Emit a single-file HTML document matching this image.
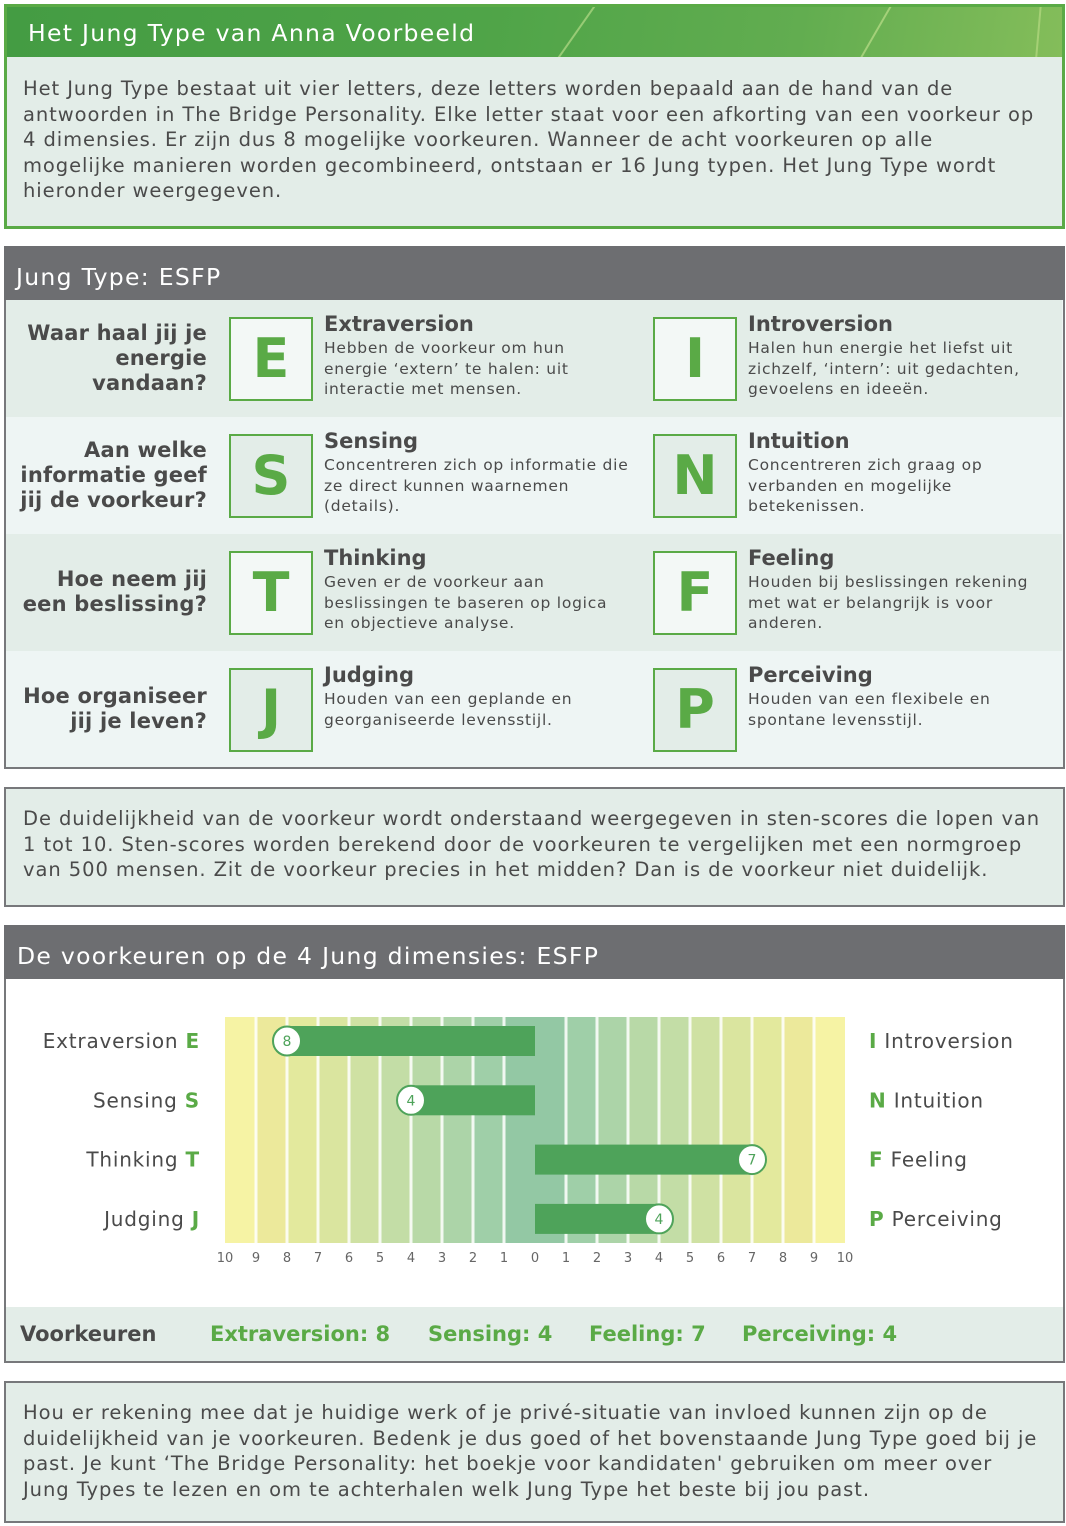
<!DOCTYPE html>
<html><head><meta charset="utf-8">
<style>
*{margin:0;padding:0;box-sizing:border-box}
body{width:1066px;height:1526px;background:#fff;position:relative;font-family:"DejaVu Sans","Liberation Sans",sans-serif;color:#4a4a4a;overflow:hidden}
.abs{position:absolute}
.p{font-size:19.5px;line-height:25.6px;white-space:nowrap;letter-spacing:0.93px}
.hdr{color:#fff;font-size:23.5px;white-space:nowrap;letter-spacing:1.3px}
.row{position:absolute;left:6px;width:1056px;height:117px}
.q{position:absolute;right:855px;text-align:right;font-weight:bold;font-size:21px;line-height:25px;color:#4a4a4a;white-space:nowrap;letter-spacing:0.2px}
.lb{position:absolute;width:84px;height:84px;border:2px solid #5aaa46;color:#5aaa46;font-weight:bold;font-size:54px;text-align:center;line-height:80px}
.tt{position:absolute;font-weight:bold;font-size:21px;color:#4a4a4a;white-space:nowrap}
.ds{position:absolute;font-size:15.5px;line-height:20.5px;color:#4a4a4a;white-space:nowrap;letter-spacing:0.75px}
.g{color:#5aaa46;font-weight:bold}
</style></head><body>

<div class="abs" style="left:4px;top:4px;width:1061px;height:225px;border:3px solid #5aaa46;background:#e3ede8"></div>
<div class="abs" style="left:7px;top:7px;width:1055px;height:50px;background:linear-gradient(100deg,#449c43 0%,#4fa448 45%,#62ad50 75%,#84bd5a 100%);overflow:hidden">
<div class="abs" style="left:565px;top:-10px;width:2px;height:80px;background:rgba(220,240,160,.5);transform:rotate(35deg)"></div>
<div class="abs" style="left:865px;top:-10px;width:2px;height:80px;background:rgba(220,240,160,.5);transform:rotate(30deg)"></div>
<div class="abs" style="left:1030px;top:-10px;width:2px;height:80px;background:rgba(220,240,160,.4);transform:rotate(5deg)"></div>
</div>
<div class="abs hdr" style="left:28px;top:19px">Het Jung Type van Anna Voorbeeld</div>
<div class="abs p" style="left:23px;top:76px">Het Jung Type bestaat uit vier letters, deze letters worden bepaald aan de hand van de<br>antwoorden in The Bridge Personality. Elke letter staat voor een afkorting van een voorkeur op<br>4 dimensies. Er zijn dus 8 mogelijke voorkeuren. Wanneer de acht voorkeuren op alle<br>mogelijke manieren worden gecombineerd, ontstaan er 16 Jung typen. Het Jung Type wordt<br>hieronder weergegeven.</div>

<div class="abs" style="left:4px;top:246px;width:1061px;height:523px;border:2px solid #77787b;background:#eef5f4"></div>
<div class="abs" style="left:4px;top:246px;width:1061px;height:54px;background:#6d6e71"></div>
<div class="abs hdr" style="left:16px;top:263px">Jung Type: ESFP</div>

<div class="row" style="top:300px;background:#e3ede8">
 <div class="q" style="top:21px">Waar haal jij je<br>energie<br>vandaan?</div>
 <div class="lb" style="left:223px;top:17px;background:#f3f8f6">E</div>
 <div class="tt" style="left:318px;top:12px">Extraversion</div>
 <div class="ds" style="left:318px;top:38px">Hebben de voorkeur om hun<br>energie ‘extern’ te halen: uit<br>interactie met mensen.</div>
 <div class="lb" style="left:647px;top:17px;background:#f3f8f6">I</div>
 <div class="tt" style="left:742px;top:12px">Introversion</div>
 <div class="ds" style="left:742px;top:38px">Halen hun energie het liefst uit<br>zichzelf, ‘intern’: uit gedachten,<br>gevoelens en ideeën.</div>
</div>
<div class="row" style="top:417px;background:#eef5f4">
 <div class="q" style="top:21px">Aan welke<br>informatie geef<br>jij de voorkeur?</div>
 <div class="lb" style="left:223px;top:17px;background:#e3ede8">S</div>
 <div class="tt" style="left:318px;top:12px">Sensing</div>
 <div class="ds" style="left:318px;top:38px">Concentreren zich op informatie die<br>ze direct kunnen waarnemen<br>(details).</div>
 <div class="lb" style="left:647px;top:17px;background:#e3ede8">N</div>
 <div class="tt" style="left:742px;top:12px">Intuition</div>
 <div class="ds" style="left:742px;top:38px">Concentreren zich graag op<br>verbanden en mogelijke<br>betekenissen.</div>
</div>
<div class="row" style="top:534px;background:#e3ede8">
 <div class="q" style="top:33px">Hoe neem jij<br>een beslissing?</div>
 <div class="lb" style="left:223px;top:17px;background:#f3f8f6">T</div>
 <div class="tt" style="left:318px;top:12px">Thinking</div>
 <div class="ds" style="left:318px;top:38px">Geven er de voorkeur aan<br>beslissingen te baseren op logica<br>en objectieve analyse.</div>
 <div class="lb" style="left:647px;top:17px;background:#f3f8f6">F</div>
 <div class="tt" style="left:742px;top:12px">Feeling</div>
 <div class="ds" style="left:742px;top:38px">Houden bij beslissingen rekening<br>met wat er belangrijk is voor<br>anderen.</div>
</div>
<div class="row" style="top:651px;height:116px;background:#eef5f4">
 <div class="q" style="top:33px">Hoe organiseer<br>jij je leven?</div>
 <div class="lb" style="left:223px;top:17px;background:#e3ede8">J</div>
 <div class="tt" style="left:318px;top:12px">Judging</div>
 <div class="ds" style="left:318px;top:38px">Houden van een geplande en<br>georganiseerde levensstijl.</div>
 <div class="lb" style="left:647px;top:17px;background:#e3ede8">P</div>
 <div class="tt" style="left:742px;top:12px">Perceiving</div>
 <div class="ds" style="left:742px;top:38px">Houden van een flexibele en<br>spontane levensstijl.</div>
</div>

<div class="abs" style="left:4px;top:787px;width:1061px;height:120px;border:2px solid #77787b;background:#e3ede8"></div>
<div class="abs p" style="left:23px;top:806px">De duidelijkheid van de voorkeur wordt onderstaand weergegeven in sten-scores die lopen van<br>1 tot 10. Sten-scores worden berekend door de voorkeuren te vergelijken met een normgroep<br>van 500 mensen. Zit de voorkeur precies in het midden? Dan is de voorkeur niet duidelijk.</div>

<div class="abs" style="left:4px;top:925px;width:1061px;height:438px;border:2px solid #77787b;background:#fff"></div>
<div class="abs" style="left:4px;top:925px;width:1061px;height:54px;background:#6d6e71"></div>
<div class="abs hdr" style="left:17px;top:942px">De voorkeuren op de 4 Jung dimensies: ESFP</div>
<svg class="abs" style="left:0;top:0" width="1066" height="1300" id="chart"></svg>
<div class="abs" style="left:6px;top:1307px;width:1057px;height:54px;background:#e3ede8"></div>
<div class="abs" style="left:20px;top:1322px;font-weight:bold;font-size:21px">Voorkeuren</div>
<div class="abs g" style="left:210px;top:1322px;font-size:21px">Extraversion: 8</div>
<div class="abs g" style="left:428px;top:1322px;font-size:21px">Sensing: 4</div>
<div class="abs g" style="left:589px;top:1322px;font-size:21px">Feeling: 7</div>
<div class="abs g" style="left:742px;top:1322px;font-size:21px">Perceiving: 4</div>

<div class="abs" style="left:4px;top:1381px;width:1061px;height:142px;border:2px solid #77787b;background:#e3ede8"></div>
<div class="abs p" style="left:23px;top:1400px">Hou er rekening mee dat je huidige werk of je privé-situatie van invloed kunnen zijn op de<br>duidelijkheid van je voorkeuren. Bedenk je dus goed of het bovenstaande Jung Type goed bij je<br>past. Je kunt ‘The Bridge Personality: het boekje voor kandidaten' gebruiken om meer over<br>Jung Types te lezen en om te achterhalen welk Jung Type het beste bij jou past.</div>

<script>
const leftNames = ['Extraversion','Sensing','Thinking','Judging'];
const leftLetters = ['E','S','T','J'];
const rightNames = ['Introversion','Intuition','Feeling','Perceiving'];
const rightLetters = ['I','N','F','P'];
const scores = [8,4,7,4];
const sides = [-1,-1,1,1];
const tickLabels = [10,9,8,7,6,5,4,3,2,1,0,1,2,3,4,5,6,7,8,9,10];

const NS='http://www.w3.org/2000/svg';
const svg=document.getElementById('chart');
const cx=535, unit=31, top0=1017, bottom0=1243;
function xPos(v){return cx+v*unit;}
function yPos(i){return 1041+i*59.3;}
const bandColors=['#93c8a4','#9fcfa8','#acd4a8','#b8d9a7','#c3dda6','#cfe1a3','#dae59f','#e3e99d','#ece99b','#f6f3a4','#fdf9ba'];
function mk(tag,attrs){const e=document.createElementNS(NS,tag);for(const k in attrs)e.setAttribute(k,attrs[k]);svg.appendChild(e);return e;}
for(let k=-10;k<10;k++){
  const d=k<0?-k-1:k;
  const r=mk('rect',{x:xPos(k),y:top0,width:unit,height:bottom0-top0,fill:bandColors[d]});
  
  
}
for(let k=-9;k<=9;k++){
  if(k===0)continue;
  const l=mk('rect',{x:xPos(k)-1.5,y:top0,width:3,height:bottom0-top0,fill:'#ffffff',opacity:0.85});
  
  
}
tickLabels.forEach((t,i)=>{
  const tx=mk('text',{x:xPos(i-10),y:1262,'text-anchor':'middle','font-size':13,fill:'#666','font-family':'DejaVu Sans, sans-serif'});
  tx.textContent=t;
  
  
});
scores.forEach((s,i)=>{
  const y=yPos(i), x0=cx, x1=xPos(s*sides[i]);
  const b=mk('rect',{x:Math.min(x0,x1),y:y-15,width:Math.abs(x1-x0),height:30,fill:'#4ea35a'});
  
  
  const c=mk('ellipse',{cx:x1,cy:y,rx:14,ry:14.5,fill:'#fff',stroke:'#4ea35a','stroke-width':2});
  
  
  const t=mk('text',{x:x1,y:y+5,'text-anchor':'middle','font-size':14,fill:'#4ea35a','font-family':'DejaVu Sans, sans-serif'});
  t.textContent=s;
  
  
  const lt=mk('text',{x:200,y:y+7,'text-anchor':'end','font-size':20,'letter-spacing':0.8,fill:'#4a4a4a','font-family':'DejaVu Sans, sans-serif'});
  lt.innerHTML=leftNames[i]+' <tspan fill="#5aaa46" font-weight="bold">'+leftLetters[i]+'</tspan>';
  
  
  const rt=mk('text',{x:869,y:y+7,'font-size':20,'letter-spacing':0.8,fill:'#4a4a4a','font-family':'DejaVu Sans, sans-serif'});
  rt.innerHTML='<tspan fill="#5aaa46" font-weight="bold">'+rightLetters[i]+'</tspan>  '+rightNames[i];
  rt.setAttribute('xml:space','preserve');
  
  
});
</script>
</body></html>
